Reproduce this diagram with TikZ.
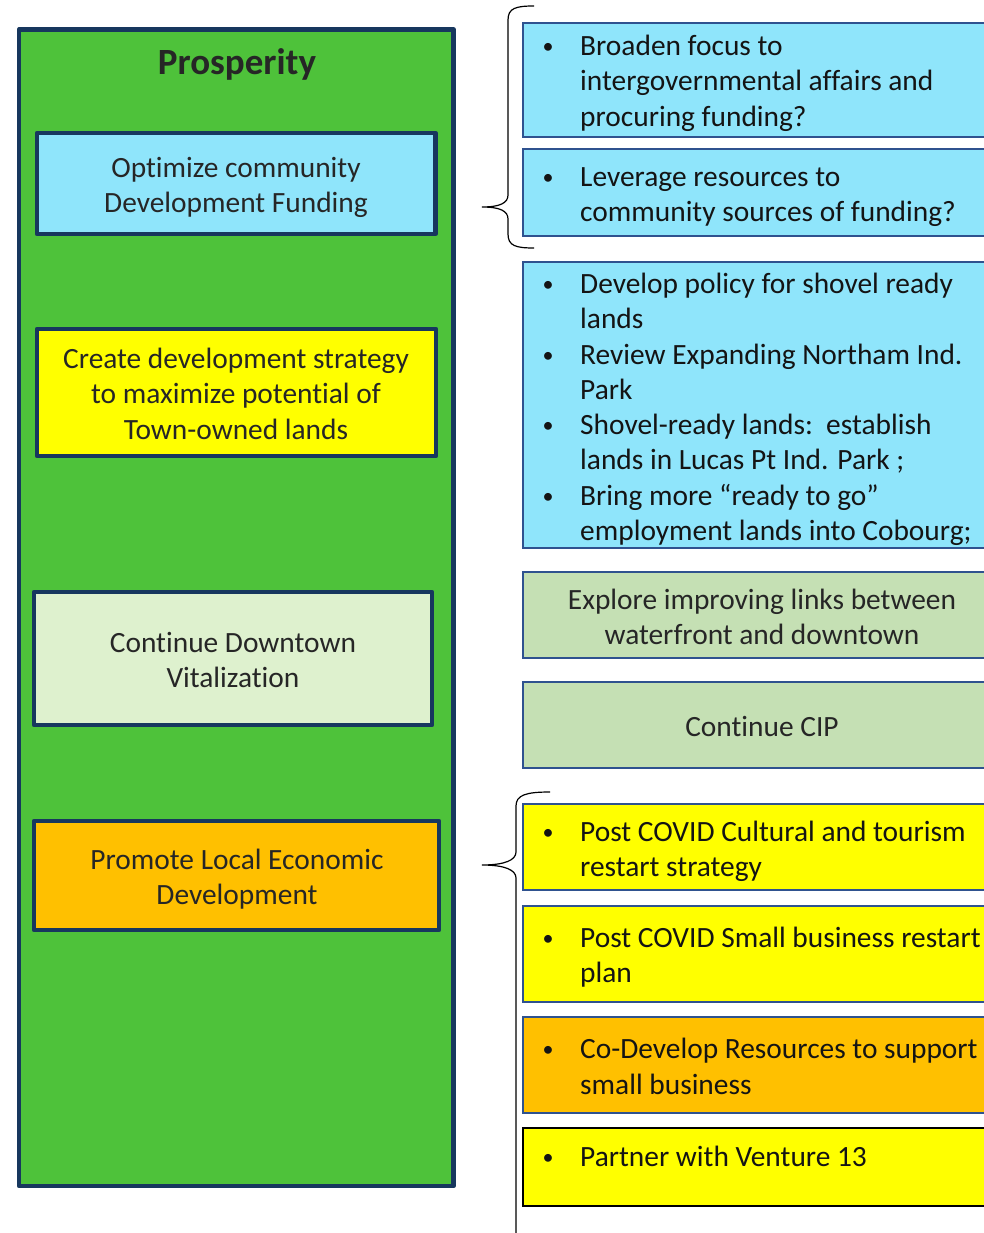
\documentclass[tikz,border=0pt]{standalone}
\usepackage{fontspec}
\setmainfont{Carlito}[Ligatures=NoCommon]
\definecolor{navy}{RGB}{23,55,94}
\definecolor{bigg}{RGB}{78,194,58}
\definecolor{lblue}{RGB}{143,229,251}
\definecolor{yel}{RGB}{255,255,0}
\definecolor{orng}{RGB}{255,192,0}
\definecolor{lgreen}{RGB}{222,241,206}
\definecolor{mgreen}{RGB}{197,224,180}
\definecolor{rborder}{RGB}{47,82,143}
\definecolor{ltext}{RGB}{38,38,38}
\definecolor{rtextc}{RGB}{20,20,20}
\tikzset{
  leftbox/.style={draw=navy, line width=4.3pt, line join=round},
  rightbox/.style={draw=rborder, line width=2pt},
  ltxt/.style={inner sep=0pt, anchor=base, yshift=-1.5pt, text=ltext, font=\fontsize{29.4}{35}\selectfont},
  rtxt/.style={inner sep=0pt, anchor=base west, yshift=-1.5pt, text=rtextc, font=\fontsize{29.4}{35}\selectfont},
  ctxt/.style={inner sep=0pt, anchor=base, yshift=-1.5pt, text=ltext, font=\fontsize{29.4}{35}\selectfont},
  bul/.style={inner sep=0pt, anchor=base, yshift=0.7pt, text=rtextc, font=\fontsize{22}{26}\selectfont},
  bracepath/.style={draw=black, line width=1.2pt},
}
\begin{document}
\begin{tikzpicture}[x=1pt,y=-1pt]
\useasboundingbox (0,0) rectangle (984,1233);
\clip (0,0) rectangle (984,1233);
% big panel
\draw[leftbox, fill=bigg, line width=4.8pt] (19,29.5) rectangle (453.5,1186);
\node[inner sep=0pt, anchor=base, yshift=-1pt, text=ltext, font=\fontsize{37}{44}\selectfont\bfseries] (title) at (237,74) {Prosperity};
% left boxes
\draw[leftbox, fill=lblue] (37,133) rectangle (435.5,234);
\node[ltxt] (l1a) at (236,176) {Optimize community};
\node[ltxt] (l1b) at (236,211) {Development Funding};
\draw[leftbox, fill=yel] (37,329) rectangle (436,456);
\node[ltxt] (l2a) at (236,367) {Create development strategy};
\node[ltxt] (l2b) at (236,402) {to maximize potential of};
\node[ltxt] (l2c) at (236,438) {Town-owned lands};
\draw[leftbox, fill=lgreen] (34,592) rectangle (432,725);
\node[ltxt] (l3a) at (233,651) {Continue Downtown};
\node[ltxt] (l3b) at (233,686) {Vitalization};
\draw[leftbox, fill=orng] (34,821) rectangle (439,930);
\node[ltxt] (l4a) at (237,868) {Promote Local Economic};
\node[ltxt] (l4b) at (237,903) {Development};
% right boxes
\draw[rightbox, fill=lblue] (523,22.7) rectangle (995,136.7);
\node[bul] (b1) at (548,54) {•};
\node[rtxt] (r1a) at (580,54) {Broaden focus to};
\node[rtxt] (r1b) at (580,89) {intergovernmental affairs and};
\node[rtxt] (r1c) at (580,125) {procuring funding?};
\draw[rightbox, fill=lblue] (523,149) rectangle (995,235.7);
\node[bul] (b2) at (548,185) {•};
\node[rtxt] (r2a) at (580,185) {Leverage resources to};
\node[rtxt] (r2b) at (580,220) {community sources of funding?};
\draw[rightbox, fill=lblue] (523,262) rectangle (995,548.3);
\node[bul] (b3a) at (548,292) {•};
\node[rtxt] (r3a) at (580,292) {Develop policy for shovel ready};
\node[rtxt] (r3b) at (580,327) {lands};
\node[bul] (b3b) at (548,363) {•};
\node[rtxt] (r3c) at (580,363) {Review Expanding Northam Ind.};
\node[rtxt] (r3d) at (580,398) {Park};
\node[bul] (b3c) at (548,433) {•};
\node[rtxt] (r3e) at (580,433) {Shovel-ready lands:\ \ establish};
\node[rtxt] (r3f) at (580,468) {lands in Lucas Pt Ind. Park ;};
\node[bul] (b3d) at (548,504) {•};
\node[rtxt] (r3g) at (580,504) {Bring more “ready to go”};
\node[rtxt] (r3h) at (580,539) {employment lands into Cobourg;};
\draw[rightbox, fill=mgreen] (523,572.3) rectangle (995,658.3);
\node[ctxt] (r4a) at (762,608) {Explore improving links between};
\node[ctxt] (r4b) at (762,643) {waterfront and downtown};
\draw[rightbox, fill=mgreen] (523,682.3) rectangle (995,768.3);
\node[ctxt] (r5) at (762,735) {Continue CIP};
\draw[rightbox, fill=yel] (523,804.3) rectangle (995,890);
\node[bul] (b6) at (548,840) {•};
\node[rtxt] (r6a) at (580,840) {Post COVID Cultural and tourism};
\node[rtxt] (r6b) at (580,875) {restart strategy};
\draw[rightbox, fill=yel] (523,905.7) rectangle (995,1001.7);
\node[bul] (b7) at (548,946) {•};
\node[rtxt] (r7a) at (580,946) {Post COVID Small business restart};
\node[rtxt] (r7b) at (580,981) {plan};
\draw[rightbox, fill=orng] (523,1016.7) rectangle (995,1112.7);
\node[bul] (b8) at (548,1057) {•};
\node[rtxt] (r8a) at (580,1057) {Co-Develop Resources to support};
\node[rtxt] (r8b) at (580,1093) {small business};
\draw[rightbox, draw=black, fill=yel] (523,1127.7) rectangle (995,1205.7);
\node[bul] (b9) at (548,1165) {•};
\node[rtxt] (r9) at (580,1165) {Partner with Venture 13};
% braces
\draw[bracepath] (534,6) .. controls (516,6) and (508,8) .. (508,20) -- (508,195)
  .. controls (508,203) and (500,207) .. (482,207)
  .. controls (500,207) and (508,211) .. (508,219) -- (508,234)
  .. controls (508,246) and (516,248) .. (534,248);
\draw[bracepath] (550,792) .. controls (526,792) and (516,795) .. (516,806) -- (516,852)
  .. controls (516,860) and (505,865) .. (482,865)
  .. controls (505,865) and (516,870) .. (516,878) -- (516,1240);
\end{tikzpicture}
\end{document}
